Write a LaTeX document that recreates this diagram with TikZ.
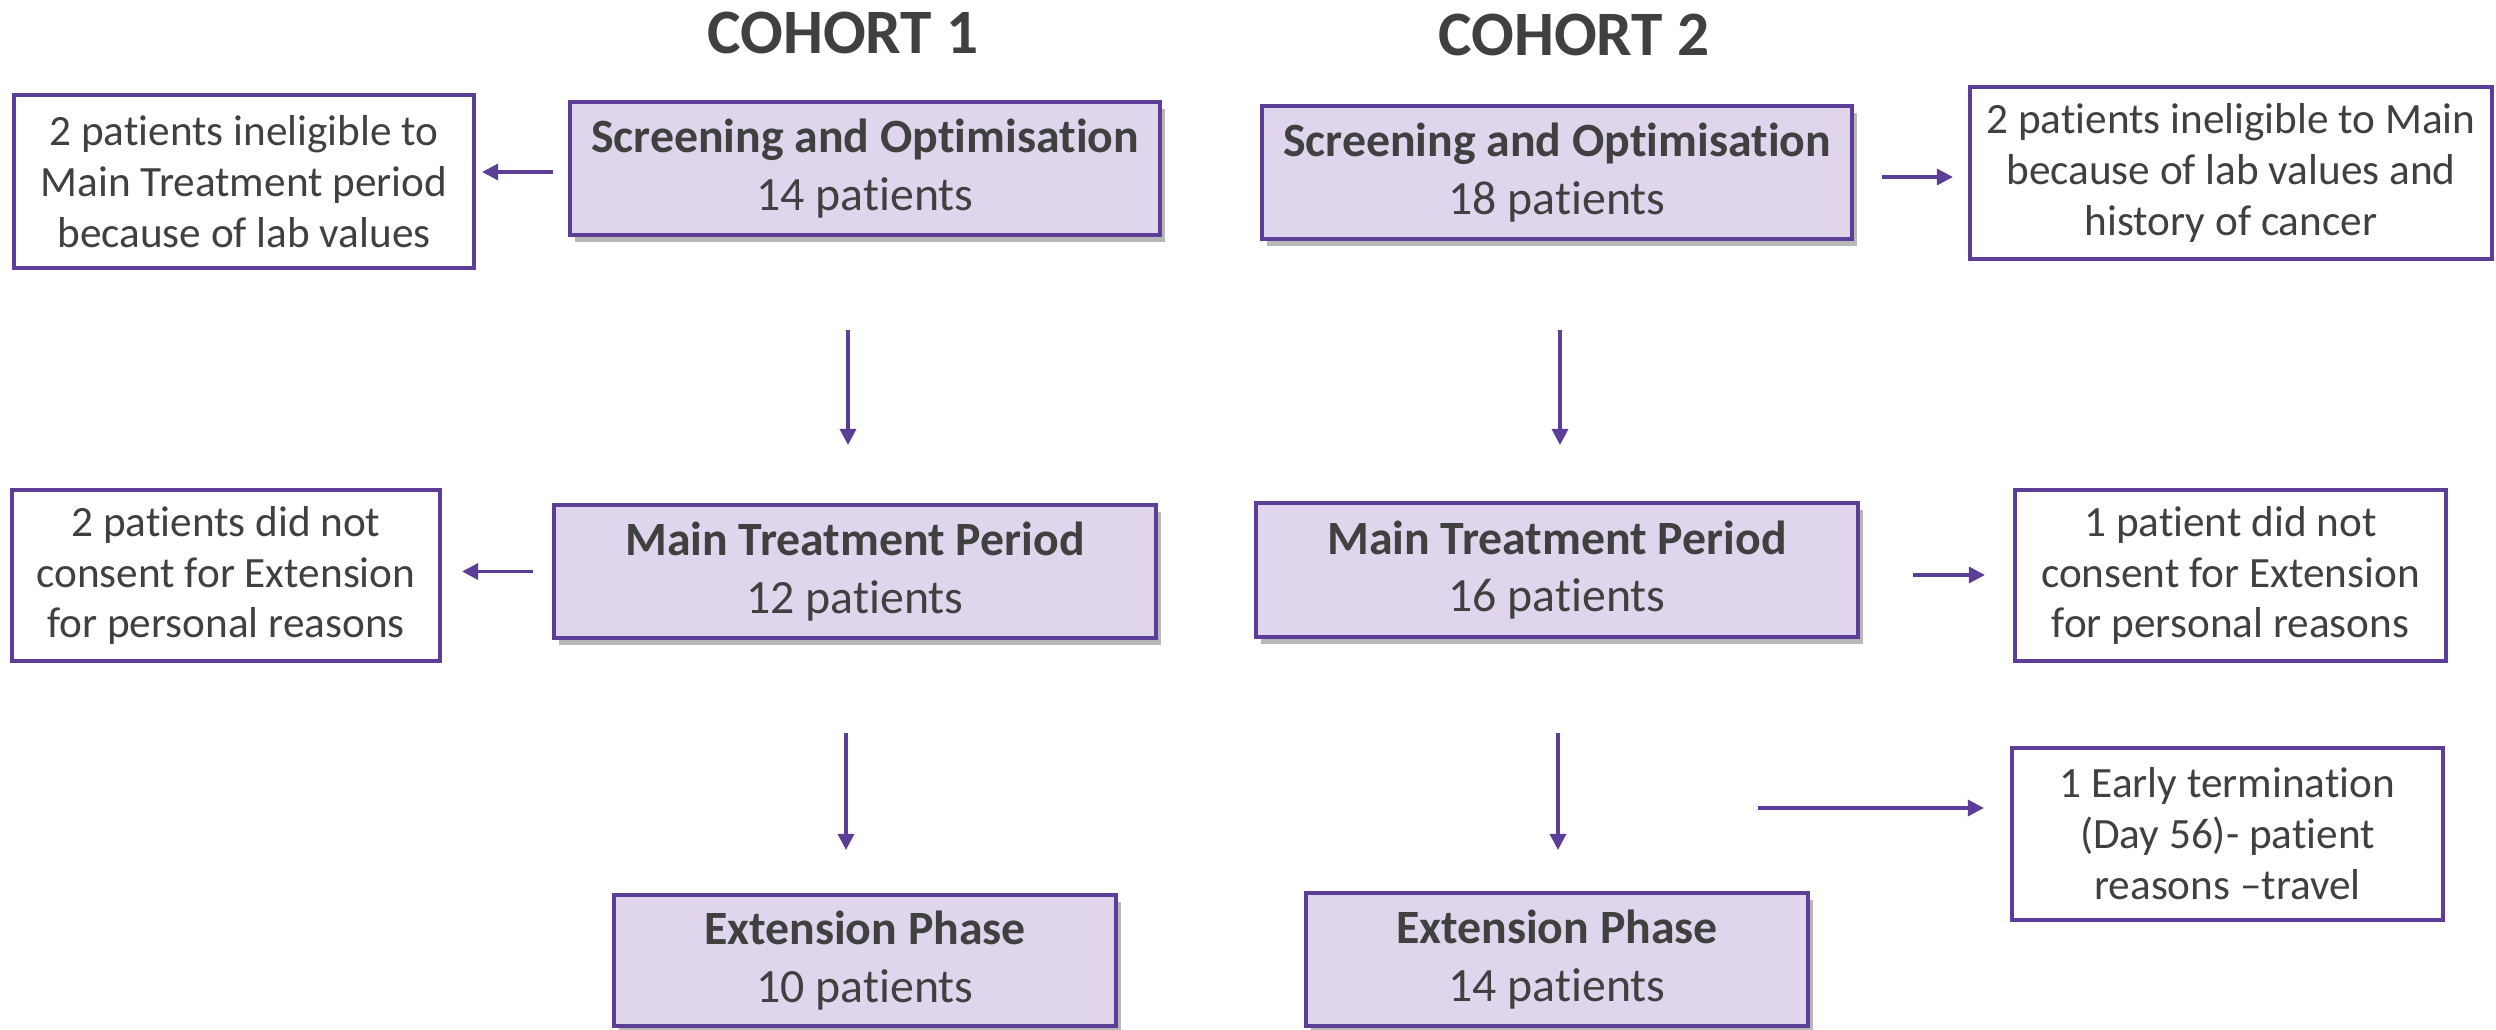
\documentclass[tikz,border=0pt]{standalone}
\usepackage{fontspec}
\setmainfont[Ligatures={TeX,NoCommon}]{Carlito}
\usetikzlibrary{shadows,arrows.meta}
\definecolor{bord}{HTML}{5D3E96}
\definecolor{fillc}{HTML}{DFD5EC}
\definecolor{txt}{HTML}{404040}
\tikzset{
  phase/.style={draw=bord, line width=0.45mm, fill=fillc, text=txt, align=center, inner sep=0pt,
    font=\fontsize{13.6}{16.4}\selectfont,
    drop shadow={shadow xshift=0.5mm, shadow yshift=-0.7mm, opacity=0.28, fill=black}},
  note/.style={draw=bord, line width=0.42mm, fill=white, text=txt, align=center, inner sep=0pt,
    font=\fontsize{12.3}{14.5}\selectfont},
  arr/.style={draw=bord, line width=0.34mm, -{Triangle[length=1.6mm,width=1.6mm]}},
  head/.style={text=txt, font=\fontsize{18}{20}\selectfont\bfseries, inner sep=0pt}
}
\begin{document}
\begin{tikzpicture}[x=0.1mm, y=-0.1mm]
\useasboundingbox (0,0) rectangle (2496,1030);
% headings
\node[head] (C1) at (843,33) {COHORT 1};
\node[head] (C2) at (1574,35) {COHORT 2};
% main phase boxes
\node[phase, minimum width=59mm, minimum height=13.3mm] (S1) at (865,168.5) {\textbf{Screening and Optimisation}\\14 patients};
\node[phase, minimum width=59mm, minimum height=13.3mm] (S2) at (1557,172.5) {\textbf{Screening and Optimisation}\\18 patients};
\node[phase, minimum width=60.2mm, minimum height=13.3mm] (M1) at (855,571.5) {\textbf{Main Treatment Period}\\12 patients};
\node[phase, minimum width=60.2mm, minimum height=13.4mm] (M2) at (1557,570) {\textbf{Main Treatment Period}\\16 patients};
\node[phase, minimum width=50.2mm, minimum height=13.1mm] (E1) at (865,960.5) {\textbf{Extension Phase}\\10 patients};
\node[phase, minimum width=50.2mm, minimum height=13.3mm] (E2) at (1557,959.5) {\textbf{Extension Phase}\\14 patients};
% side notes
\node[note, minimum width=46mm, minimum height=17.3mm] (L1) at (244,181.5) {2 patients ineligible to\\Main Treatment period\\because of lab values};
\node[note, minimum width=52.2mm, minimum height=17.2mm] (R1) at (2231,173) {2 patients ineligible to Main\\because of lab values and\\history of cancer};
\node[note, minimum width=42.8mm, minimum height=17.1mm] (L2) at (226,575.5) {2 patients did not\\consent for Extension\\for personal reasons};
\node[note, minimum width=43.1mm, minimum height=17.1mm] (R2) at (2230.5,575.5) {1 patient did not\\consent for Extension\\for personal reasons};
\node[note, minimum width=43.1mm, minimum height=17.2mm] (R3) at (2227.5,834) {1 Early termination\\(Day 56)- patient\\reasons –travel};
% free arrow ends
\coordinate (d1s) at (848,330);  \coordinate (d1e) at (848,445);
\coordinate (d2s) at (1560,330); \coordinate (d2e) at (1560,445);
\coordinate (d3s) at (846,733);  \coordinate (d3e) at (846,850);
\coordinate (d4s) at (1558,733); \coordinate (d4e) at (1558,850);
\coordinate (h5s) at (1758,808);
% vertical arrows
\draw[arr] (d1s) -- (d1e);
\draw[arr] (d2s) -- (d2e);
\draw[arr] (d3s) -- (d3e);
\draw[arr] (d4s) -- (d4e);
% horizontal arrows
\draw[arr, shorten <=1.5mm, shorten >=0.6mm] ([yshift=-0.35mm]S1.west) -- ([yshift=-0.35mm]S1.west -| L1.east);
\draw[arr, shorten <=2.8mm, shorten >=1.5mm] ([yshift=-0.45mm]S2.east) -- ([yshift=-0.45mm]S2.east -| R1.west);
\draw[arr, shorten <=1.9mm, shorten >=2mm] (M1.west) -- (M1.west -| L2.east);
\draw[arr, shorten <=5.3mm, shorten >=2.8mm] ([yshift=-0.5mm]M2.east) -- ([yshift=-0.5mm]M2.east -| R2.west);
\draw[arr, shorten >=2.6mm] (h5s) -- (h5s -| R3.west);
\end{tikzpicture}
\end{document}
